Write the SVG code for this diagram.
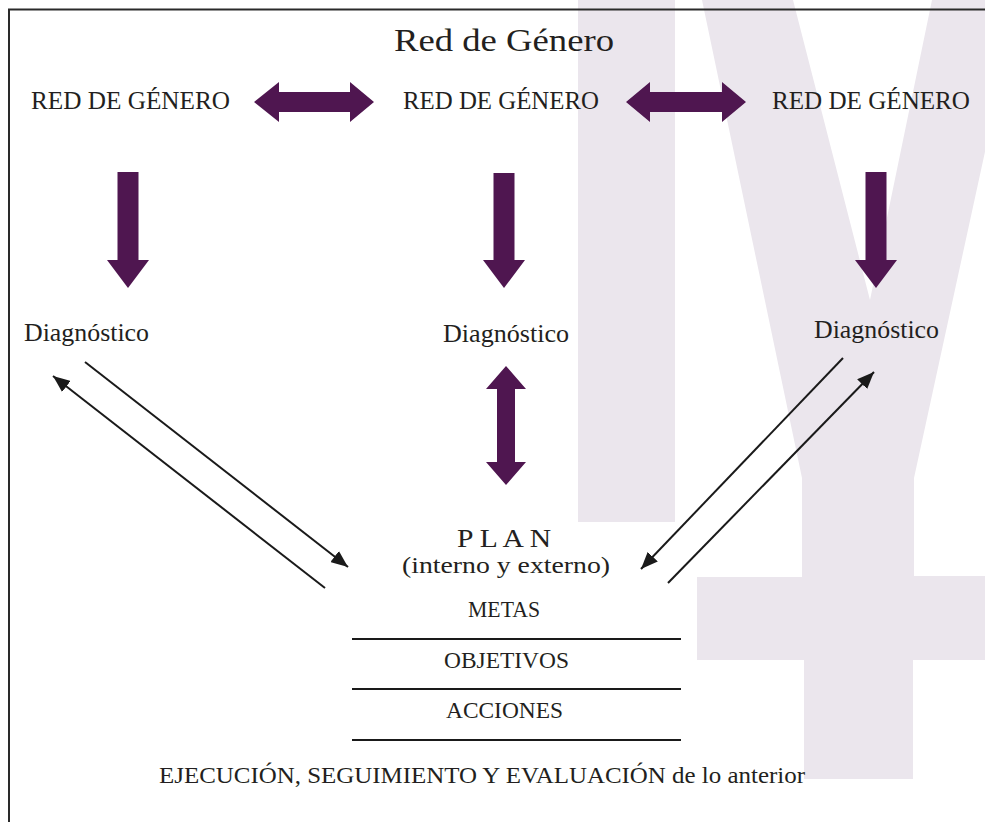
<svg xmlns="http://www.w3.org/2000/svg" width="985" height="822" viewBox="0 0 985 822">
<defs>
<style>
.t{font-family:"Liberation Serif","Times New Roman",serif;fill:#231f20;}
.fat{fill:#4f1650;}
.thin{stroke:#1a1a1a;stroke-width:2;fill:none;}
.rule{stroke:#1a1a1a;stroke-width:2;}
.wm{fill:#ebe6ed;}
</style>
<marker id="ah" markerUnits="userSpaceOnUse" markerWidth="18" markerHeight="14" refX="17" refY="7" orient="auto">
<path d="M0,0 L17,7 L0,14 Z" fill="#1a1a1a"/>
</marker>
</defs>
<rect width="985" height="822" fill="#ffffff"/>
<g id="watermark">
<rect class="wm" x="578" y="0" width="97" height="522"/>
<polygon class="wm" points="702,0 793,0 870,300 932,0 1018,0 914,478 914,576 985,576 985,660 913,660 913,779 804,779 804,660 697,660 697,577 802,577 802,478"/>
</g>
<g id="frame">
<line x1="9" y1="9" x2="9" y2="822" stroke="#2a2a2a" stroke-width="2"/>
<line x1="8" y1="9.5" x2="985" y2="9.5" stroke="#2a2a2a" stroke-width="2"/>
</g>
<g id="title"><text class="t" x="504" y="51" font-size="31" text-anchor="middle" textLength="220" lengthAdjust="spacingAndGlyphs">Red de Género</text></g>
<g id="red1"><text class="t" x="130.5" y="109" font-size="25" text-anchor="middle" textLength="199" lengthAdjust="spacingAndGlyphs">RED DE GÉNERO</text></g>
<g id="red2"><text class="t" x="501" y="109" font-size="25" text-anchor="middle" textLength="196" lengthAdjust="spacingAndGlyphs">RED DE GÉNERO</text></g>
<g id="red3"><text class="t" x="871" y="109" font-size="25" text-anchor="middle" textLength="198" lengthAdjust="spacingAndGlyphs">RED DE GÉNERO</text></g>
<g id="diag1"><text class="t" x="86.5" y="341" font-size="25" text-anchor="middle" textLength="125" lengthAdjust="spacingAndGlyphs">Diagnóstico</text></g>
<g id="diag2"><text class="t" x="506" y="342" font-size="25" text-anchor="middle" textLength="126" lengthAdjust="spacingAndGlyphs">Diagnóstico</text></g>
<g id="diag3"><text class="t" x="876.5" y="338" font-size="25" text-anchor="middle" textLength="125" lengthAdjust="spacingAndGlyphs">Diagnóstico</text></g>
<g id="plan">
<text class="t" x="504" y="547" font-size="25" text-anchor="middle" textLength="94" lengthAdjust="spacingAndGlyphs">P L A N</text>
<text class="t" x="506" y="573" font-size="24" text-anchor="middle" textLength="208" lengthAdjust="spacingAndGlyphs">(interno y externo)</text>
<text class="t" x="504" y="617" font-size="24" text-anchor="middle" textLength="72" lengthAdjust="spacingAndGlyphs">METAS</text>
<line class="rule" x1="352" y1="639" x2="681" y2="639"/>
<text class="t" x="506.5" y="668" font-size="24" text-anchor="middle" textLength="125" lengthAdjust="spacingAndGlyphs">OBJETIVOS</text>
<line class="rule" x1="352" y1="689" x2="681" y2="689"/>
<text class="t" x="504.5" y="718" font-size="24" text-anchor="middle" textLength="117" lengthAdjust="spacingAndGlyphs">ACCIONES</text>
<line class="rule" x1="352" y1="740" x2="681" y2="740"/>
</g>
<g id="ejecucion"><text class="t" x="482" y="783" font-size="24" text-anchor="middle" textLength="646" lengthAdjust="spacingAndGlyphs">EJECUCIÓN, SEGUIMIENTO Y EVALUACIÓN de lo anterior</text></g>
<g id="connectors">
<polygon class="fat" points="254,102 279,82 279,92 350,92 350,82 374,102 350,122 350,112 279,112 279,122"/>
<polygon class="fat" points="626,102 650,82 650,92 722,92 722,82 746,102 722,122 722,112 650,112 650,122"/>
<polygon class="fat" points="117.5,172 138.5,172 138.5,260 149,260 128,288 107,260 117.5,260"/>
<polygon class="fat" points="493.5,173 514.5,173 514.5,260 525,260 504,288 483,260 493.5,260"/>
<polygon class="fat" points="865.5,172 886.5,172 886.5,260 897,260 876,288 855,260 865.5,260"/>
<polygon class="fat" points="506,366 526,389 515,389 515,462 526,462 506,485 486,462 497,462 497,389 486,389"/>
<line class="thin" x1="85" y1="362" x2="348" y2="567" marker-end="url(#ah)"/>
<line class="thin" x1="325" y1="588" x2="53" y2="376" marker-end="url(#ah)"/>
<line class="thin" x1="843" y1="358" x2="641" y2="569" marker-end="url(#ah)"/>
<line class="thin" x1="668" y1="583" x2="874" y2="372" marker-end="url(#ah)"/>
</g>
</svg>
